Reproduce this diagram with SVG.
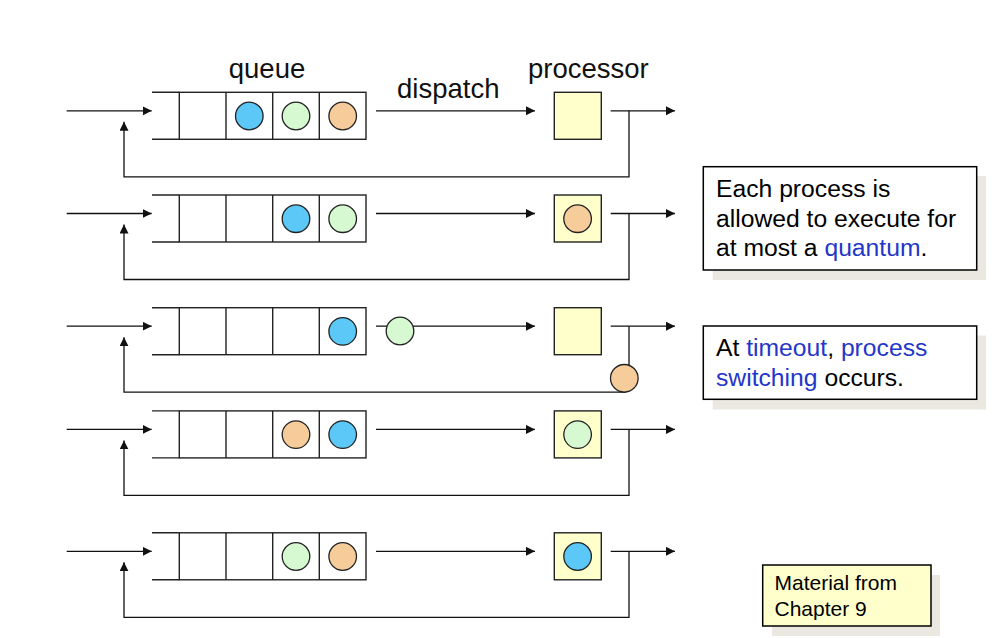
<svg xmlns="http://www.w3.org/2000/svg" width="997" height="638" viewBox="0 0 997 638">
<style>
.q{fill:#ffffff;stroke:#222;stroke-width:1.4}
.ql{fill:none;stroke:#222;stroke-width:1.4}
.p{fill:#ffffcc;stroke:#222;stroke-width:1.4}
.c{stroke:#222;stroke-width:1.3}
.b{fill:#5bc8f7}.g{fill:#d6f9d1}.o{fill:#f6cc9b}
.w{fill:none;stroke:#111;stroke-width:1.3}
.a{marker-end:url(#ah)}
.lbl{font-family:"Liberation Sans",Arial,sans-serif;font-size:27.5px;fill:#111}
.note{font-family:"Liberation Sans",Arial,sans-serif;font-size:24.7px;fill:#000}
.hl{fill:#2436c8}
.sh{fill:#ebe8e1}
.box{fill:#fff;stroke:#000;stroke-width:1.5}
.ybox{fill:#ffffcc;stroke:#000;stroke-width:1.5}
.mat{font-family:"Liberation Sans",Arial,sans-serif;font-size:21px;fill:#000}
</style>
<defs>
<marker id="ah" markerUnits="userSpaceOnUse" markerWidth="10" markerHeight="10" refX="9" refY="4.5" orient="auto">
<path d="M0,0 L9,4.5 L0,9 z" fill="#111"/>
</marker>
</defs>

<g id="labels">
<text class="lbl" x="267" y="78" text-anchor="middle">queue</text>
<text class="lbl" x="397" y="98">dispatch</text>
<text class="lbl" x="528" y="78">processor</text>
</g>

<g id="connectors">
<path class="w a" d="M66.7,110.8 H151.7"/>
<path class="w a" d="M376,110.8 H535"/>
<path class="w a" d="M610.7,110.8 H675"/>
<path class="w a" d="M629,110.8 V176.8 H124 V121.8"/>
<path class="w a" d="M66.7,213.5 H151.7"/>
<path class="w a" d="M376,213.5 H535"/>
<path class="w a" d="M610.7,213.5 H675"/>
<path class="w a" d="M629,213.5 V279.5 H124 V224.5"/>
<path class="w a" d="M66.7,326.2 H151.7"/>
<path class="w a" d="M376,326.2 H535"/>
<path class="w a" d="M610.7,326.2 H675"/>
<path class="w" d="M629,326.2 V365"/>
<path class="w a" d="M626,392.2 H124 V337.2"/>
<path class="w a" d="M66.7,429.4 H151.7"/>
<path class="w a" d="M376,429.4 H535"/>
<path class="w a" d="M610.7,429.4 H675"/>
<path class="w a" d="M629,429.4 V495.4 H124 V440.4"/>
<path class="w a" d="M66.7,551.3 H151.7"/>
<path class="w a" d="M376,551.3 H535"/>
<path class="w a" d="M610.7,551.3 H675"/>
<path class="w a" d="M629,551.3 V617.3 H124 V562.3"/>
</g>

<g id="queue1">
<path class="ql" d="M152,92.3 H179.3 M152,139.3 H179.3"/>
<rect class="q" x="179.3" y="92.3" width="186.7" height="47"/>
<path class="ql" d="M226,92.3 V139.3 M272.7,92.3 V139.3 M319.3,92.3 V139.3"/>
<circle class="c b" cx="249.3" cy="116" r="13.8"/>
<circle class="c g" cx="296" cy="116" r="13.8"/>
<circle class="c o" cx="342.7" cy="116" r="13.8"/>
</g>
<g id="processor1"><rect class="p" x="554.3" y="92.3" width="47" height="47"/></g>

<g id="queue2">
<path class="ql" d="M152,195 H179.3 M152,242 H179.3"/>
<rect class="q" x="179.3" y="195" width="186.7" height="47"/>
<path class="ql" d="M226,195 V242 M272.7,195 V242 M319.3,195 V242"/>
<circle class="c b" cx="296" cy="218.7" r="13.8"/>
<circle class="c g" cx="342.7" cy="218.7" r="13.8"/>
</g>
<g id="processor2">
<rect class="p" x="554.3" y="195" width="47" height="47"/>
<circle class="c o" cx="577.6" cy="218.7" r="13.8"/>
</g>

<g id="queue3">
<path class="ql" d="M152,307.7 H179.3 M152,354.7 H179.3"/>
<rect class="q" x="179.3" y="307.7" width="186.7" height="47"/>
<path class="ql" d="M226,307.7 V354.7 M272.7,307.7 V354.7 M319.3,307.7 V354.7"/>
<circle class="c b" cx="342.7" cy="331.4" r="13.8"/>
</g>
<g id="processor3"><rect class="p" x="554.3" y="307.7" width="47" height="47"/></g>
<g id="dispatched3"><circle class="c g" cx="400" cy="331" r="13.8"/></g>
<g id="switched3"><circle class="c o" cx="624.3" cy="378.3" r="13.8"/></g>

<g id="queue4">
<path class="ql" d="M152,410.9 H179.3 M152,457.9 H179.3"/>
<rect class="q" x="179.3" y="410.9" width="186.7" height="47"/>
<path class="ql" d="M226,410.9 V457.9 M272.7,410.9 V457.9 M319.3,410.9 V457.9"/>
<circle class="c o" cx="296" cy="434.6" r="13.8"/>
<circle class="c b" cx="342.7" cy="434.6" r="13.8"/>
</g>
<g id="processor4">
<rect class="p" x="554.3" y="410.9" width="47" height="47"/>
<circle class="c g" cx="577.6" cy="434.6" r="13.8"/>
</g>

<g id="queue5">
<path class="ql" d="M152,532.8 H179.3 M152,579.8 H179.3"/>
<rect class="q" x="179.3" y="532.8" width="186.7" height="47"/>
<path class="ql" d="M226,532.8 V579.8 M272.7,532.8 V579.8 M319.3,532.8 V579.8"/>
<circle class="c g" cx="296" cy="556.5" r="13.8"/>
<circle class="c o" cx="342.7" cy="556.5" r="13.8"/>
</g>
<g id="processor5">
<rect class="p" x="554.3" y="532.8" width="47" height="47"/>
<circle class="c b" cx="577.6" cy="556.5" r="13.8"/>
</g>

<g id="note-quantum">
<rect class="sh" x="712.7" y="176" width="273.4" height="104"/>
<rect class="box" x="703.3" y="166.7" width="273.4" height="103.3"/>
<text class="note" x="716" y="197">Each process is</text>
<text class="note" x="716" y="226.5">allowed to execute for</text>
<text class="note" x="716" y="256">at most a <tspan class="hl">quantum</tspan>.</text>
</g>

<g id="note-timeout">
<rect class="sh" x="712.7" y="335.5" width="273.4" height="74"/>
<rect class="box" x="703.3" y="326" width="273.4" height="73.3"/>
<text class="note" x="716" y="356">At <tspan class="hl">timeout</tspan>, <tspan class="hl">process</tspan></text>
<text class="note" x="716" y="386"><tspan class="hl">switching</tspan> occurs.</text>
</g>

<g id="note-material">
<rect class="sh" x="772" y="575" width="168" height="61"/>
<rect class="ybox" x="762.7" y="565" width="168.3" height="61"/>
<text class="mat" x="774.5" y="589.5">Material from</text>
<text class="mat" x="774.5" y="615.5">Chapter 9</text>
</g>
</svg>
